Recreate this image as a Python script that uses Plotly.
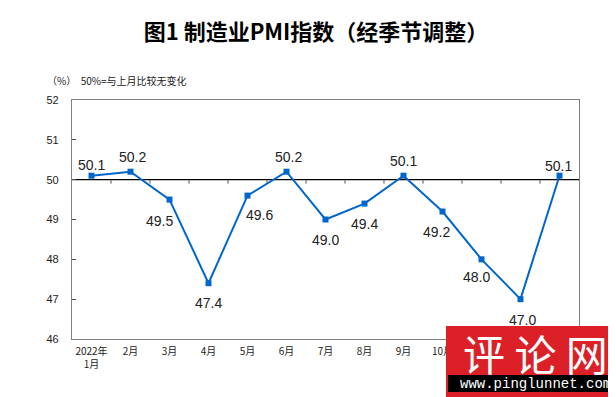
import plotly.graph_objects as go

months = ["2022年<br>1月", "2月", "3月", "4月", "5月", "6月", "7月", "8月", "9月", "10月", "11月", "12月", "2023年<br>1月"]
pmi = [50.1, 50.2, 49.5, 47.4, 49.6, 50.2, 49.0, 49.4, 50.1, 49.2, 48.0, 47.0, 50.1]
y_ticks = [46, 47, 48, 49, 50, 51, 52]

# label offsets in pixels (dx, dy) -- styling only
label_offsets = [(0, 11), (2, 15), (-10, -21), (0, -20), (12, -19), (2, 15), (0, -20),
                 (0, -20), (0, 15), (-6, -20), (-5, -18), (2, -21), (-1, 10)]

BLUE = "rgb(0,102,204)"
fig = go.Figure()
fig.add_trace(go.Scatter(
    x=months, y=pmi, mode="lines+markers",
    line=dict(color=BLUE, width=2),
    marker=dict(symbol="square", size=6, color=BLUE),
    hoverinfo="skip", showlegend=False, cliponaxis=False,
))

for i, (m, v) in enumerate(zip(months, pmi)):
    dx, dy = label_offsets[i]
    fig.add_annotation(x=m, y=v, text=f"{v:.1f}", showarrow=False,
                       xshift=dx, yshift=dy,
                       font=dict(family="Liberation Sans, Arial", size=14, color="#222"))

# reference line at 50 with boundary tick marks
fig.add_shape(type="line", xref="x", yref="y", x0=-0.5, x1=len(months) - 0.5, y0=50, y1=50,
              line=dict(color="black", width=1.2), layer="below")
for i in range(1, len(months)):
    fig.add_shape(type="line", xref="x", yref="y", ysizemode="pixel", yanchor=50,
                  x0=i - 0.5, x1=i - 0.5, y0=0, y1=-4,
                  line=dict(color="#555", width=1), layer="below")

fig.update_layout(
    width=616, height=397,
    margin=dict(l=64, r=45, t=92, b=66),
    paper_bgcolor="white", plot_bgcolor="white",
    title=dict(text="<b>图1 制造业PMI指数（经季节调整）</b>", x=(308 - 64) / 507, xref="paper",
               xanchor="center", y=1 - 24 / 397, yanchor="middle",
               font=dict(family="Noto Sans CJK SC", size=22, color="black")),
    xaxis=dict(type="category", range=[-0.5, len(months) - 0.5], showgrid=False,
               showline=True, linecolor="#808080", linewidth=1.3, mirror=True,
               ticks="", tickfont=dict(family="Noto Sans CJK SC", size=10, color="#222"),
               ticklabelstandoff=3, zeroline=False),
    yaxis=dict(range=[46, 52], tickvals=y_ticks, showgrid=False, zeroline=False,
               showline=True, linecolor="#808080", linewidth=1.3, mirror=True,
               ticks="inside", ticklen=4, tickcolor="#555",
               tickfont=dict(family="Liberation Sans, Arial", size=11, color="#222"),
               ticklabelstandoff=10),
)

fig.add_annotation(xref="paper", yref="paper", x=(37 - 64) / 507, y=(331 - 73) / 239,
                   xanchor="left", yanchor="middle", showarrow=False,
                   text="（%）  50%=与上月比较无变化",
                   font=dict(family="Noto Sans CJK SC", size=10, color="#222"))

# watermark overlay
def px_x(p):
    return (p - 64) / 507

def px_y(p):
    return (331 - p) / 239

fig.add_shape(type="rect", xref="paper", yref="paper", x0=px_x(438), x1=px_x(620),
              y0=px_y(393), y1=px_y(318), fillcolor="rgb(220,32,40)", line=dict(width=0),
              layer="above")
fig.add_shape(type="rect", xref="paper", yref="paper", x0=px_x(440), x1=px_x(620),
              y0=px_y(384), y1=px_y(367), fillcolor="black", line=dict(width=0),
              layer="above")
fig.add_annotation(xref="paper", yref="paper", x=px_x(527), y=px_y(344),
                   xanchor="center", yanchor="middle", showarrow=False,
                   text="评 论 网",
                   font=dict(family="Noto Sans CJK SC", size=42, color="white"))
fig.add_annotation(xref="paper", yref="paper", x=px_x(527), y=px_y(375.5),
                   xanchor="center", yanchor="middle", showarrow=False,
                   text="www.pinglunnet.com",
                   font=dict(family="Liberation Mono", size=14, color="white"))

fig.write_html("out.html")
